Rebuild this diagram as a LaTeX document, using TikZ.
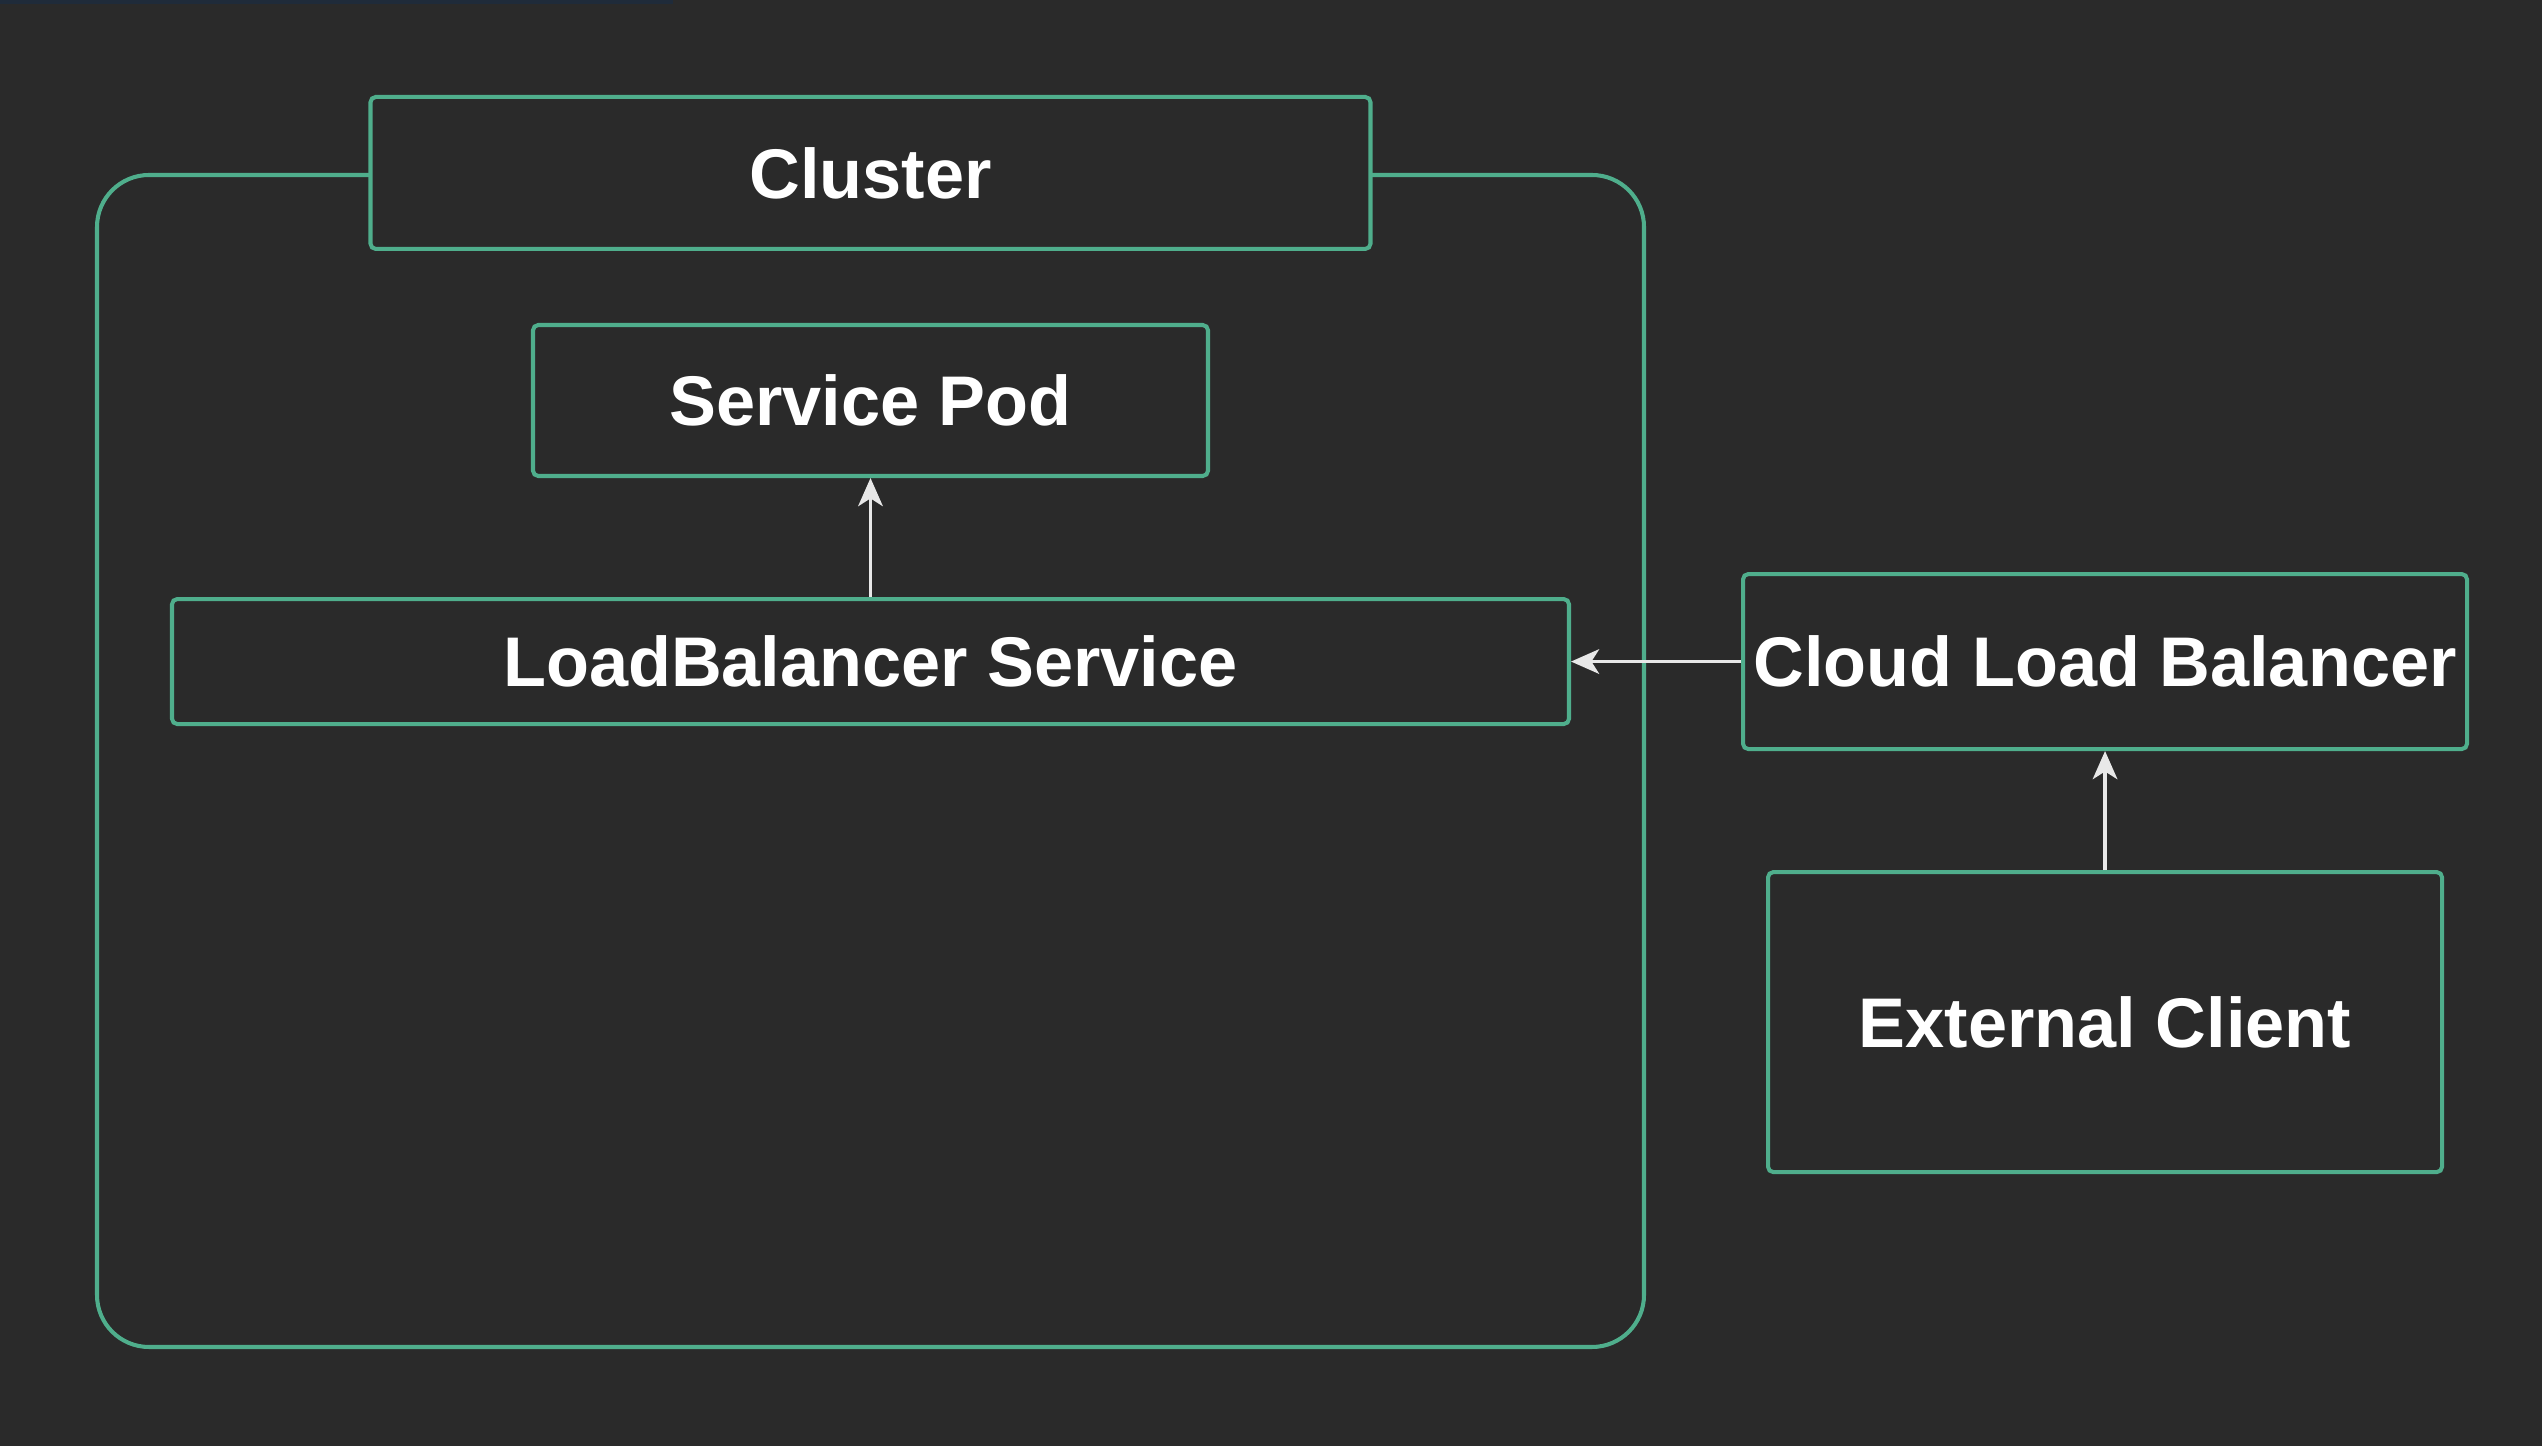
\documentclass[tikz,border=0pt]{standalone}
\usepackage{fontspec}
\setmainfont{Liberation Sans}
\usetikzlibrary{positioning,arrows.meta}
\definecolor{bgdark}{HTML}{2A2A2A}
\definecolor{boxgreen}{HTML}{4FAE8C}
\definecolor{stripblue}{HTML}{1F2B3A}
\definecolor{arrowgray}{HTML}{E8E8E8}

\begin{document}
\begin{tikzpicture}[
		box/.style={draw=boxgreen, line width=1.15pt, rounded corners=1.5pt, fill=bgdark,
			inner sep=0pt, text=white, font=\bfseries\fontsize{20}{24}\selectfont},
		outerbox/.style={draw=boxgreen, line width=1.15pt, rounded corners=0.52cm, inner sep=0pt},
		flow/.style={-{Stealth[length=8pt,width=7pt,inset=2.2pt]}, draw=arrowgray, line width=1pt}
	]
		\fill[bgdark] (0,0) rectangle (25.42,14.46);
		\useasboundingbox (0,0) rectangle (25.42,14.46);
		\fill[stripblue] (0,14.42) rectangle (6.73,14.46);
		
		\node[outerbox, minimum width=15.47cm, minimum height=11.72cm](cluster) at (8.705,6.85) {};
		\node[box, minimum width=10cm, minimum height=1.52cm](title) at (cluster.north) {Cluster};
		\node[box, minimum width=6.75cm, minimum height=1.51cm, below=0.72 of title](pod) {Service Pod};
		\node[box, minimum width=13.97cm, minimum height=1.25cm, below=1.19 of pod](lbsvc) {LoadBalancer Service};
		\node[box, minimum width=7.24cm, minimum height=1.75cm, right=1.70 of lbsvc](cloudlb) {Cloud Load Balancer};
		\node[box, minimum width=6.74cm, minimum height=3cm, below=1.19 of cloudlb](client) {External Client};
		
		\draw[flow] (lbsvc) -- (pod);
		\draw[flow] (cloudlb) -- (lbsvc);
		\draw[flow] (client) -- (cloudlb);
\end{tikzpicture}
\end{document}
